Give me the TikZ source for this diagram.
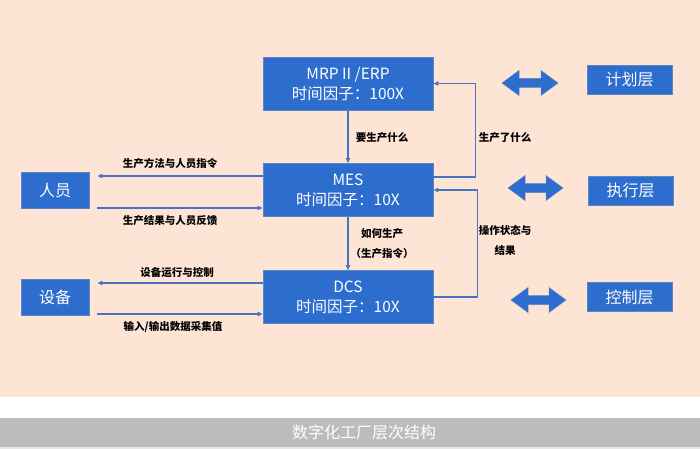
\documentclass[tikz,border=0pt]{standalone}
\usepackage{fontspec}
\setmainfont{Noto Sans CJK SC}
\usetikzlibrary{arrows.meta}
\definecolor{peach}{HTML}{FDE4D4}
\definecolor{boxblue}{HTML}{2D6DCE}
\definecolor{boxedge}{HTML}{5C86C4}
\definecolor{linkblue}{HTML}{4A74C2}
\definecolor{bargray}{HTML}{BCBCBC}
\tikzset{
  sysbox/.style={rectangle, fill=boxblue, draw=boxedge, line width=0.8pt, text=white,
    minimum width=170pt, minimum height=53pt, align=center, font=\fontsize{15.5}{20}\selectfont, inner sep=0pt},
  sidebox/.style={rectangle, fill=boxblue, draw=boxedge, line width=0.8pt, text=white,
    minimum width=68pt, minimum height=36pt, font=\fontsize{16}{19}\selectfont, inner sep=0pt},
  layerbox/.style={rectangle, fill=boxblue, draw=boxedge, line width=0.8pt, text=white,
    minimum width=85pt, minimum height=29pt, font=\fontsize{16}{19}\selectfont, inner sep=0pt},
  lbl/.style={text=black, font=\fontsize{10.5}{13}\selectfont\bfseries, inner sep=0pt},
  link/.style={draw=linkblue, line width=1.1pt, -{Triangle[length=5pt,width=4.5pt]}},
  dblarr/.style={fill=boxblue, draw=boxedge, line width=0.5pt}
}
\newcommand\dblarrowat[3]{% x, y, length
  \filldraw[dblarr] (#1,#2) -- ++(17,-12.5) -- ++(0,8) -- ++(#3-34,0) -- ++(0,-8)
    -- ++(17,12.5) -- ++(-17,12.5) -- ++(0,-8) -- ++(-#3+34,0) -- ++(0,8) -- cycle;}
\begin{document}
\begin{tikzpicture}[x=1pt,y=-1pt]
\useasboundingbox (0,0) rectangle (700,449);
\fill[peach] (0,0) rectangle (700,397);
\fill[white] (0,397) rectangle (700,418);
\fill[bargray] (0,418) rectangle (700,447);
\fill[gray!20] (0,447) rectangle (700,449);
\node[text=white, font=\fontsize{16}{19}\selectfont] (title) at (364,432) {数字化工厂层次结构};

% main boxes
\node[sysbox] (mrp) at (348,83.5) {MRP II /ERP\\时间因子：100X};
\node[sysbox] (mes) at (348,190) {MES\\时间因子：10X};
\node[sysbox] (dcs) at (348,297) {DCS\\时间因子：10X};

\node[sidebox] (ppl) at (55,190) {人员};
\node[sidebox] (eqp) at (55,297) {设备};

\node[layerbox] (plan) at (629.5,79.5) {计划层};
\node[layerbox] (exec) at (630.5,190.5) {执行层};
\node[layerbox] (ctrl) at (629.5,297) {控制层};

% double arrows
\dblarrowat{502}{83}{56}
\dblarrowat{508}{188}{55}
\dblarrowat{511}{300}{55}

% vertical links
\draw[link] (mrp.south) -- (mes.north);
\draw[link] (mes.south) -- (dcs.north);
\node[lbl] (l1) at (382,138) {要生产什么};
\node[lbl] (l2) at (382,234) {如何生产};
\node[lbl] (l3) at (382,254) {（生产指令）};

% feedback links
\draw[link] ([yshift=13pt]mes.east) -- ++(42,0) |- (mrp.east);
\node[lbl] (l4) at (505,138) {生产了什么};
\draw[link] (dcs.east) -- ++(44,0) |- (mes.east);
\node[lbl] (l5) at (505,230) {操作状态与};
\node[lbl] (l6) at (505,250) {结果};

% people links
\draw[link, shorten >=8pt] ([yshift=14pt]mes.west) -- ([yshift=14pt]mes.west -| ppl.east);
\draw[link, shorten <=8pt] ([yshift=-18pt]mes.west -| ppl.east) -- ([yshift=-18pt]mes.west);
\node[lbl] (l7) at (170,163) {生产方法与人员指令};
\node[lbl] (l8) at (170,221) {生产结果与人员反馈};

% equipment links
\draw[link, shorten >=8pt] ([yshift=14pt]dcs.west) -- ([yshift=14pt]dcs.west -| eqp.east);
\draw[link, shorten <=8pt] ([yshift=-17pt]dcs.west -| eqp.east) -- ([yshift=-17pt]dcs.west);
\node[lbl] (l9) at (177,273) {设备运行与控制};
\node[lbl] (l10) at (173,327) {输入/输出数据采集值};
\end{tikzpicture}
\end{document}
